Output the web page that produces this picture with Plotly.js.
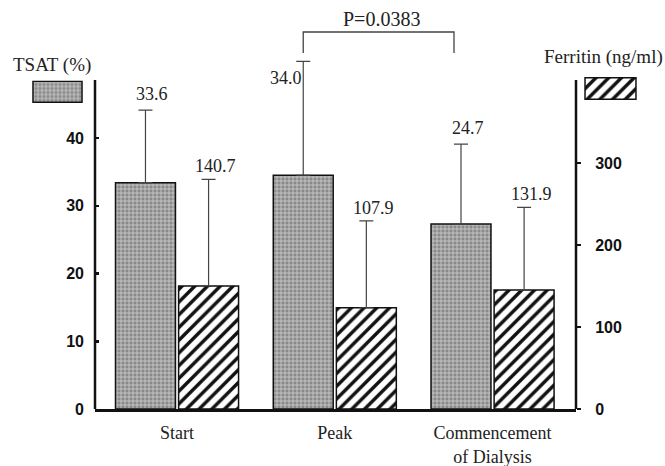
<!DOCTYPE html>
<html>
<head>
<meta charset="utf-8">
<script src="https://cdn.plot.ly/plotly-3.0.1.min.js"></script>
<style>html,body{margin:0;padding:0;background:#fff;}#chart{width:665px;height:466px;}</style>
</head>
<body>
<div id="chart"></div>
<script>
// ---- data ----
const categories = ['Start', 'Peak', 'Commencement<br>of Dialysis'];
const tsatMean = [33.4, 34.5, 27.3];          // drawn bar heights (%)
const tsatSD = [10.7, 16.8, 11.8];            // upper error bar length (%)
const ferritinMean = [150, 123.5, 145];       // drawn bar heights (ng/ml)
const ferritinSD = [130, 106, 101];           // upper error bar length (ng/ml)
const tsatLabels = ['33.6', '34.0', '24.7'];
const ferritinLabels = ['140.7', '107.9', '131.9'];
const leftTicks = [0, 10, 20, 30, 40];
const rightTicks = [0, 100, 200, 300];
const pLabel = 'P=0.0383';
const leftTitle = 'TSAT (%)';
const rightTitle = 'Ferritin (ng/ml)';

// ---- geometry / style ----
const W = 665, H = 466;
const M = {l: 10, r: 10, t: 10, b: 57};
const pw = W - M.l - M.r, ph = H - M.t - M.b;
const px2x = p => (p - M.l) / pw;
const px2y = p => (H - M.b - p) / ph;
const xDom = [px2x(95), px2x(576)];
const yDom = [0, px2y(55)];
const yTopAxis = px2y(80);
const xRange = [-0.52, 2.529];
const yRange = [0, (409 - 55) / 6.775];
const y2Range = [0, (409 - 55) / 0.82];
const barW = 0.38, offA = -0.39, offB = 0.01;
const serif = 'Liberation Serif, Times New Roman, serif';
const sans = 'Liberation Sans, Arial, sans-serif';
const xToPaper = v => xDom[0] + (v - xRange[0]) / (xRange[1] - xRange[0]) * (xDom[1] - xDom[0]);

const tsatPattern = {shape: '+', fgcolor: '#d0d0d0', bgcolor: '#8a8a8a', size: 4, solidity: 0.35, fillmode: 'replace'};
const ferPattern = {shape: '/', fgcolor: '#111', bgcolor: '#fff', size: 9, solidity: 0.38, fillmode: 'replace'};

const traces = [
  {
    type: 'bar', x: categories, y: tsatMean, yaxis: 'y', xaxis: 'x',
    width: barW, offset: offA,
    marker: {color: '#8a8a8a', pattern: tsatPattern, line: {color: '#111', width: 1.5}},
    error_y: {type: 'data', symmetric: false, array: tsatSD, arrayminus: tsatSD.map(() => 0), color: '#444', thickness: 1.2, width: 7},
    hoverinfo: 'skip', showlegend: false
  },
  {
    type: 'bar', x: categories, y: ferritinMean, yaxis: 'y2', xaxis: 'x',
    width: barW, offset: offB,
    marker: {color: '#fff', pattern: ferPattern, line: {color: '#111', width: 1.5}},
    error_y: {type: 'data', symmetric: false, array: ferritinSD, arrayminus: ferritinSD.map(() => 0), color: '#444', thickness: 1.2, width: 7},
    hoverinfo: 'skip', showlegend: false
  },
  // legend swatches
  {
    type: 'bar', x: [0], y: [1], xaxis: 'x3', yaxis: 'y3', width: 1,
    marker: {color: '#8a8a8a', pattern: tsatPattern, line: {color: '#111', width: 1.5}},
    hoverinfo: 'skip', showlegend: false
  },
  {
    type: 'bar', x: [0], y: [1], xaxis: 'x4', yaxis: 'y4', width: 1,
    marker: {color: '#fff', pattern: ferPattern, line: {color: '#111', width: 1.5}},
    hoverinfo: 'skip', showlegend: false
  }
];

const annotations = [];
const labelFont = {family: serif, size: 18, color: '#222'};
categories.forEach((c, i) => {
  const tA = {x: i + offA + barW / 2, y: tsatMean[i] + tsatSD[i], xref: 'x', yref: 'y',
    text: tsatLabels[i], showarrow: false, font: labelFont, xshift: 7, yshift: 16,
    xanchor: 'center', yanchor: 'middle'};
  if (i === 1) { tA.xanchor = 'right'; tA.xshift = 1; tA.yshift = -17; }
  annotations.push(tA);
  annotations.push({x: i + offB + barW / 2, y: ferritinMean[i] + ferritinSD[i], xref: 'x', yref: 'y2',
    text: ferritinLabels[i], showarrow: false, font: labelFont, xshift: 7, yshift: 13,
    xanchor: 'center', yanchor: 'middle'});
});
annotations.push({x: px2x(52), y: px2y(65), xref: 'paper', yref: 'paper', text: leftTitle, showarrow: false,
  xanchor: 'center', yanchor: 'middle', font: {family: serif, size: 19, color: '#222'}});
annotations.push({x: px2x(603), y: px2y(57), xref: 'paper', yref: 'paper', text: rightTitle, showarrow: false,
  xanchor: 'center', yanchor: 'middle', font: {family: serif, size: 19, color: '#222'}});

// significance bracket between Peak TSAT and Commencement TSAT
const bx0 = xToPaper(1 + offA + barW / 2);
const bx1 = xToPaper(2 + offA + barW / 2) - 7 / pw;
const byTop = px2y(32), byBot = px2y(53);
annotations.push({x: (bx0 + bx1) / 2 + 3 / pw, y: px2y(19), xref: 'paper', yref: 'paper', text: pLabel, showarrow: false,
  xanchor: 'center', yanchor: 'middle', font: {family: serif, size: 20, color: '#222'}});

const shapes = [
  {type: 'path', xref: 'paper', yref: 'paper',
   path: `M ${bx0} ${byBot} L ${bx0} ${byTop} L ${bx1} ${byTop} L ${bx1} ${byBot}`,
   line: {color: '#444', width: 1.3}},
  {type: 'line', xref: 'paper', yref: 'paper', x0: xDom[0], x1: xDom[0], y0: 0, y1: yTopAxis, line: {color: '#111', width: 2.5}},
  {type: 'line', xref: 'paper', yref: 'paper', x0: xDom[1], x1: xDom[1], y0: 0, y1: yTopAxis, line: {color: '#111', width: 2.5}}
];

const layout = {
  width: W, height: H,
  margin: M,
  paper_bgcolor: '#fff', plot_bgcolor: 'rgba(0,0,0,0)',
  showlegend: false,
  barmode: 'overlay',
  xaxis: {domain: xDom, type: 'category', range: xRange, showline: true, linecolor: '#111', linewidth: 2.5,
    ticks: '', showgrid: false, zeroline: false, fixedrange: true,
    tickfont: {family: serif, size: 18, color: '#222'}, ticklabelstandoff: 6},
  yaxis: {domain: yDom, range: yRange, tickvals: leftTicks, ticks: 'inside', ticklen: 4, tickwidth: 2.5, tickcolor: '#111',
    showline: false, showgrid: false, zeroline: false, ticklabelstandoff: 10,
    tickfont: {family: sans, size: 16, color: '#111', weight: 'bold'}},
  yaxis2: {overlaying: 'y', side: 'right', anchor: 'x', range: y2Range, tickvals: rightTicks, ticks: 'outside', ticklen: 4, tickwidth: 2.5, tickcolor: '#111',
    showline: false, showgrid: false, zeroline: false, ticklabelstandoff: 11,
    tickfont: {family: sans, size: 16, color: '#111', weight: 'bold'}},
  xaxis3: {domain: [px2x(32), px2x(83)], anchor: 'y3', range: [-0.52, 0.52], visible: false, fixedrange: true},
  yaxis3: {domain: [px2y(103), px2y(80.5)], anchor: 'x3', range: [-0.03, 1.03], visible: false, fixedrange: true},
  xaxis4: {domain: [px2x(584), px2x(637)], anchor: 'y4', range: [-0.52, 0.52], visible: false, fixedrange: true},
  yaxis4: {domain: [px2y(100), px2y(77)], anchor: 'x4', range: [-0.03, 1.03], visible: false, fixedrange: true},
  annotations: annotations,
  shapes: shapes
};

Plotly.newPlot('chart', traces, layout, {displayModeBar: false, staticPlot: true});
</script>
</body>
</html>
